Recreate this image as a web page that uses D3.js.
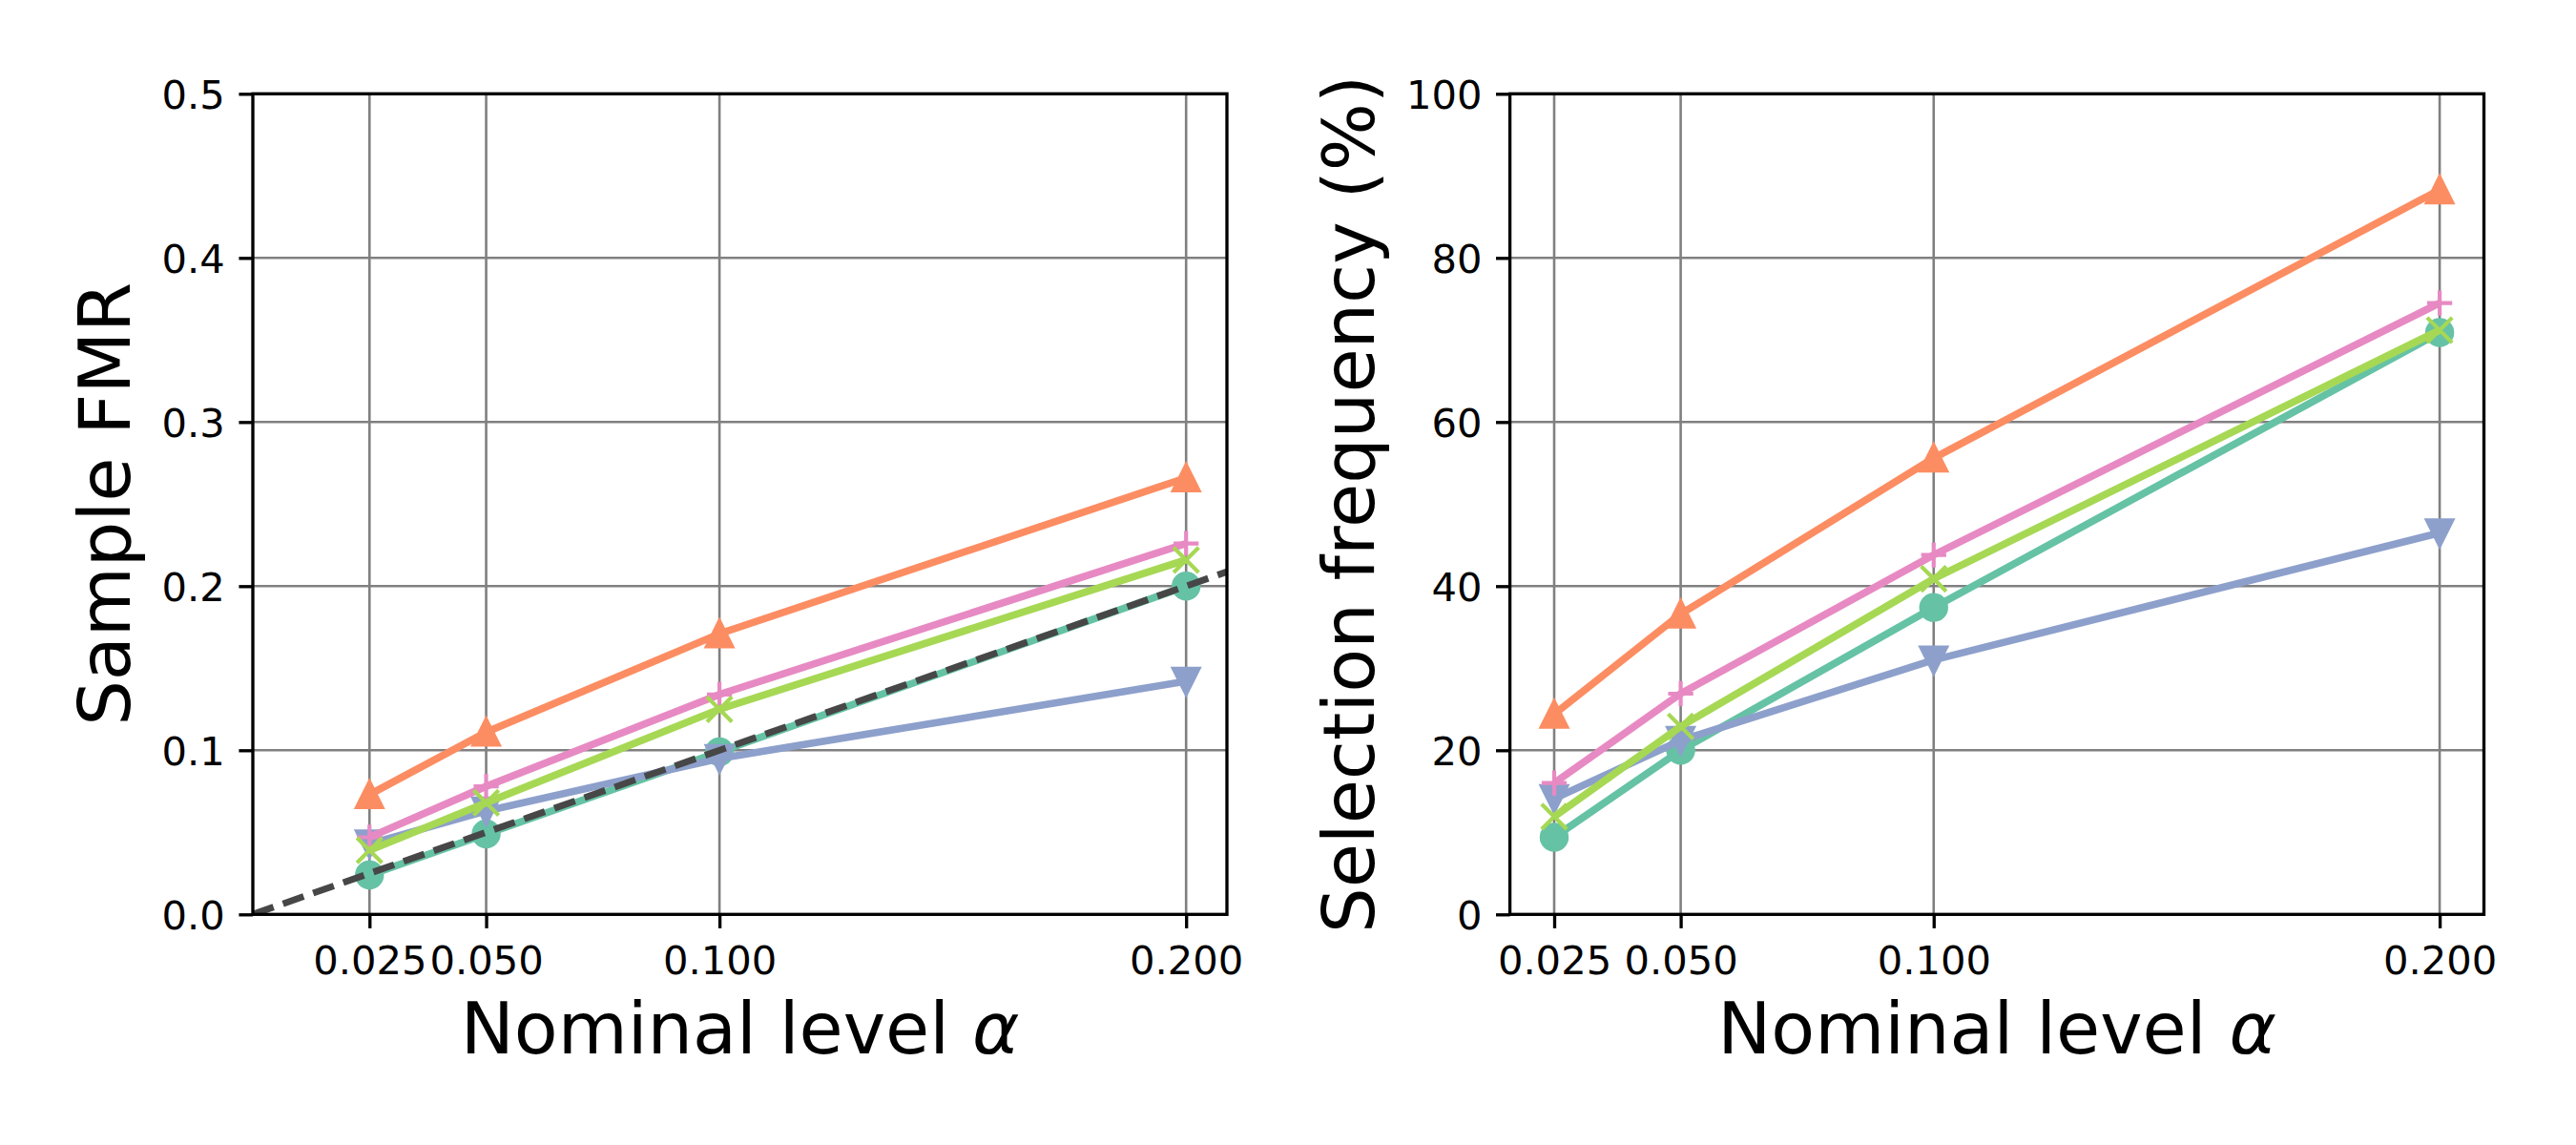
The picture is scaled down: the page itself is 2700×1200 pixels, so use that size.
<!DOCTYPE html>
<html>
<head>
<meta charset="utf-8">
<script src="https://cdn.jsdelivr.net/npm/d3@7"></script>
<style>
  html, body { margin: 0; padding: 0; background: #ffffff; }
  svg { display: block; }
  text { font-family: "DejaVu Sans", sans-serif; fill: #000; }
</style>
</head>
<body>
<svg id="chart" width="2700" height="1200"></svg>
<script>
// ---------------- data ----------------
const alphaLevels = [0.025, 0.05, 0.1, 0.2];
const xTickValues = [0.025, 0.05, 0.1, 0.2];

const fmrTeal   = [0.024, 0.049, 0.099, 0.200];
const fmrOrange = [0.073, 0.111, 0.171, 0.266];
const fmrBlue   = [0.043, 0.063, 0.095, 0.142];
const fmrPink   = [0.047, 0.078, 0.134, 0.226];
const fmrGreen  = [0.039, 0.068, 0.125, 0.216];

const selTeal   = [9.4, 20.0, 37.4, 70.9];
const selOrange = [24.4, 36.6, 55.6, 88.3];
const selBlue   = [14.1, 21.2, 31.0, 46.5];
const selPink   = [16.0, 26.9, 43.8, 74.5];
const selGreen  = [11.9, 22.9, 40.9, 71.2];

const fmrTicks = [0.0, 0.1, 0.2, 0.3, 0.4, 0.5];
const selTicks = [0, 20, 40, 60, 80, 100];
const identityLine = [0, 0.21];   // dashed y = x reference

const seriesStyles = [
  { color: "#66c2a5", marker: "circle" },
  { color: "#fc8d62", marker: "triUp" },
  { color: "#8da0cb", marker: "triDown" },
  { color: "#e78ac3", marker: "plus" },
  { color: "#a6d854", marker: "x" }
];

// ---------------- layout ----------------
const PT = 300 / 72;
const svg = d3.select("#chart");
const plotTop = 98.3, plotBottom = 958.3;
const tickLen = 3.5 * PT, tickW = 0.8 * PT, spineW = 0.8 * PT;
const tickFont = 10 * PT, labelFont = 18 * PT;
const lineW = 7.7, ms = 6.3 * PT, mew = 1 * PT;

function drawMarker(g, type, cx, cy, color) {
  const h = ms / 2;
  if (type === "circle") {
    g.append("circle").attr("cx", cx).attr("cy", cy).attr("r", h)
      .attr("fill", color).attr("stroke", color).attr("stroke-width", mew);
  } else if (type === "triUp" || type === "triDown") {
    const s = type === "triUp" ? 1 : -1;
    const pts = [[cx, cy - s * h], [cx - h, cy + s * h], [cx + h, cy + s * h]];
    g.append("polygon").attr("points", pts.map(p => p.join(",")).join(" "))
      .attr("fill", color).attr("stroke", color).attr("stroke-width", mew)
      .attr("stroke-linejoin", "miter");
  } else if (type === "plus") {
    g.append("path").attr("d", `M${cx - h},${cy}H${cx + h}M${cx},${cy - h}V${cy + h}`)
      .attr("stroke", color).attr("stroke-width", mew).attr("fill", "none");
  } else if (type === "x") {
    g.append("path").attr("d", `M${cx - h},${cy - h}L${cx + h},${cy + h}M${cx - h},${cy + h}L${cx + h},${cy - h}`)
      .attr("stroke", color).attr("stroke-width", mew).attr("fill", "none");
  }
}

function panel(opts) {
  const x = d3.scaleLinear().domain(opts.xDomain).range([opts.left, opts.right]);
  const y = d3.scaleLinear().domain(opts.yDomain).range([plotBottom, plotTop]);
  const g = svg.append("g");

  // grid
  const grid = g.append("g");
  xTickValues.forEach(v => grid.append("line")
    .attr("x1", x(v)).attr("x2", x(v)).attr("y1", plotTop).attr("y2", plotBottom)
    .attr("stroke", "#808080").attr("stroke-width", 2.6));
  opts.yTicks.forEach(v => grid.append("line")
    .attr("x1", opts.left).attr("x2", opts.right).attr("y1", y(v)).attr("y2", y(v))
    .attr("stroke", "#808080").attr("stroke-width", 2.6));

  // series
  const clip = "clip" + opts.id;
  svg.append("clipPath").attr("id", clip).append("rect")
    .attr("x", opts.left).attr("y", plotTop).attr("width", opts.right - opts.left).attr("height", plotBottom - plotTop);
  const data = g.append("g");
  const line = d3.line().x(d => x(d[0])).y(d => y(d[1]));
  opts.series.forEach((vals, i) => {
    const st = seriesStyles[i];
    const pts = alphaLevels.map((a, j) => [a, vals[j]]);
    data.append("path").attr("d", line(pts)).attr("fill", "none")
      .attr("stroke", st.color).attr("stroke-width", lineW)
      .attr("stroke-linejoin", "round").attr("stroke-linecap", "butt");
    pts.forEach(p => drawMarker(data, st.marker, x(p[0]), y(p[1]), st.color));
  });
  if (opts.identity) {
    const pts = identityLine.map(v => [v, v]);
    g.append("path").attr("d", line(pts)).attr("fill", "none")
      .attr("clip-path", `url(#${clip})`)
      .attr("stroke", "#474747").attr("stroke-width", 7)
      .attr("stroke-dasharray", "23 10.5");
  }

  // axes
  const xa = g.append("g").attr("transform", `translate(0,${plotBottom})`)
    .call(d3.axisBottom(x).tickValues(xTickValues).tickSize(tickLen).tickFormat(d3.format(".3f")));
  const ya = g.append("g").attr("transform", `translate(${opts.left},0)`)
    .call(d3.axisLeft(y).tickValues(opts.yTicks).tickSize(tickLen).tickFormat(opts.yFormat));
  [xa, ya].forEach(a => {
    a.select(".domain").remove();
    a.selectAll(".tick line").attr("stroke", "#000").attr("stroke-width", tickW);
    a.selectAll(".tick text").attr("font-size", tickFont)
      .attr("font-family", "DejaVu Sans, sans-serif").attr("fill", "#000");
  });
  xa.selectAll(".tick text").attr("y", 62.4).attr("dy", 0);
  ya.selectAll(".tick text").attr("x", -2 * tickLen).attr("dy", "0.36em");

  // spines
  g.append("rect").attr("x", opts.left).attr("y", plotTop)
    .attr("width", opts.right - opts.left).attr("height", plotBottom - plotTop)
    .attr("fill", "none").attr("stroke", "#000").attr("stroke-width", spineW)
    .attr("stroke-linejoin", "miter");

  // labels
  const cx = (opts.left + opts.right) / 2;
  const xl = g.append("text").attr("x", cx).attr("y", 1104).attr("text-anchor", "middle")
    .attr("font-size", labelFont);
  xl.append("tspan").text("Nominal level ");
  xl.append("tspan").attr("font-style", "italic").text("α");
  g.append("text")
    .attr("transform", `translate(${opts.yLabelX},${(plotTop + plotBottom) / 2}) rotate(-90)`)
    .attr("text-anchor", "middle").attr("font-size", labelFont).text(opts.yLabel);
}

panel({
  id: "a", left: 265, right: 1286, xDomain: [0, 0.20875], yDomain: [0, 0.5],
  yTicks: fmrTicks, yFormat: d3.format(".1f"), yLabel: "Sample FMR", yLabelX: 136,
  series: [fmrTeal, fmrOrange, fmrBlue, fmrPink, fmrGreen], identity: true
});
panel({
  id: "b", left: 1582.6, right: 2603.5, xDomain: [0.01625, 0.20875], yDomain: [0, 100],
  yTicks: selTicks, yFormat: d3.format("d"), yLabel: "Selection frequency (%)", yLabelX: 1440,
  series: [selTeal, selOrange, selBlue, selPink, selGreen], identity: false
});
</script>
</body>
</html>
